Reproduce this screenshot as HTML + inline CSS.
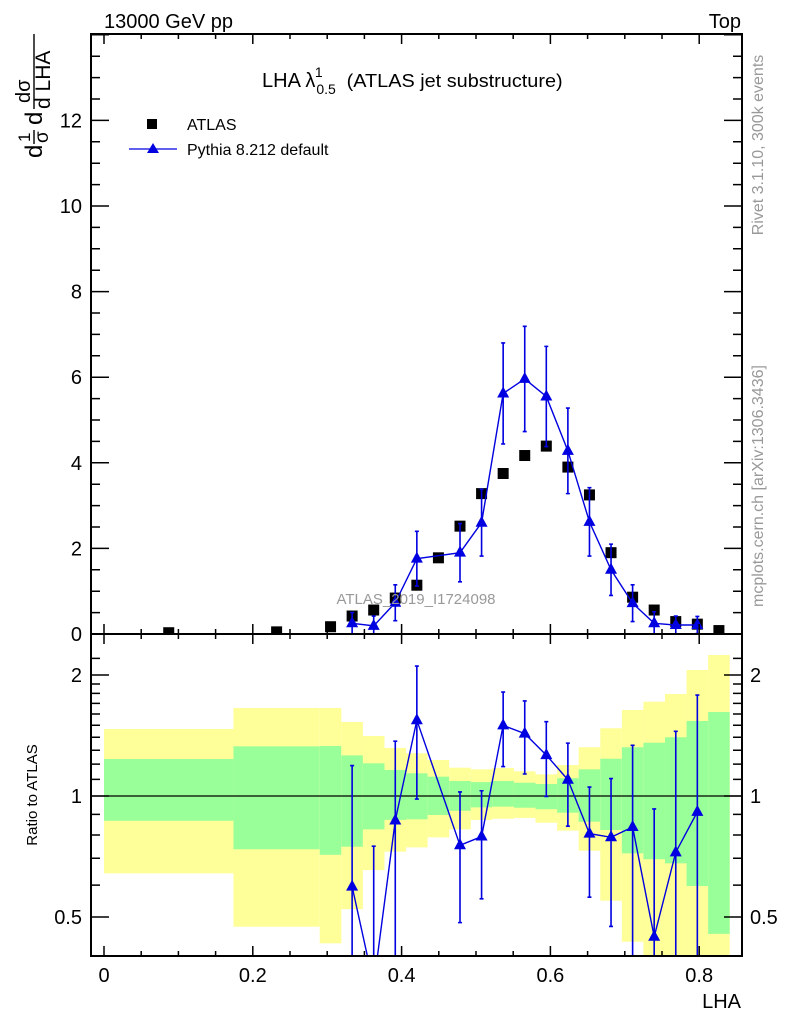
<!DOCTYPE html>
<html><head><meta charset="utf-8"><style>
html,body{margin:0;padding:0;background:#fff;width:786px;height:1024px;overflow:hidden;}
svg{display:block;font-family:"Liberation Sans",sans-serif;}
</style></head><body>
<svg id="chart" width="786" height="1024" viewBox="0 0 786 1024" xmlns="http://www.w3.org/2000/svg" overflow="hidden">
<defs>
<clipPath id="mainclip"><rect x="91" y="34" width="651" height="600"/></clipPath>
<clipPath id="ratclip"><rect x="91" y="634" width="651" height="322"/></clipPath>
</defs>
<g id="ratio-bands"></g>
<g id="main-marks" clip-path="url(#mainclip)"></g>
<g id="ratio-marks" clip-path="url(#ratclip)"></g>
<g id="axes"></g>
<text x="104" y="28" font-size="20">13000 GeV pp</text>
<text x="741" y="28" font-size="20" text-anchor="end">Top</text>
<text x="262" y="87" font-size="20">LHA λ<tspan font-size="14" dx="1" dy="7">0.5</tspan><tspan font-size="14" dx="-21" dy="-17">1</tspan><tspan font-size="18" dx="24" dy="10" textLength="216" lengthAdjust="spacingAndGlyphs">(ATLAS jet substructure)</tspan></text>
<g>
<rect x="147" y="119" width="10" height="10" fill="#000"/>
<text x="187" y="130" font-size="16">ATLAS</text>
<line x1="129" y1="149" x2="177" y2="149" stroke="#0000e0" stroke-width="1.3"/>
<polygon points="153,143 159,153 147,153" fill="#0000e0"/>
<text x="187" y="155" font-size="16">Pythia 8.212 default</text>
</g>
<text x="416" y="604" font-size="15" fill="#999" text-anchor="middle">ATLAS_2019_I1724098</text>
<text transform="translate(763,145) rotate(-90)" font-size="16" fill="#999" text-anchor="middle">Rivet 3.1.10,  300k events</text>
<text transform="translate(763,486) rotate(-90)" font-size="16" fill="#999" text-anchor="middle">mcplots.cern.ch [arXiv:1306.3436]</text>
<g transform="translate(42,158) rotate(-90)" font-size="24">
<text x="0" y="0">d</text>
<text x="16" y="-12" font-size="17">1</text>
<line x1="14" y1="-8" x2="28" y2="-8" stroke="#000" stroke-width="1.4"/>
<text x="15" y="6" font-size="19">σ</text>
<text x="33" y="0">d</text>
<text x="55" y="-12" font-size="20">dσ</text>
<line x1="49" y1="-8" x2="124" y2="-8" stroke="#000" stroke-width="1.4"/>
<text x="49" y="8" font-size="21">d LHA</text>
</g>
<text transform="translate(37,795) rotate(-90)" font-size="15" text-anchor="middle">Ratio to ATLAS</text>
<text x="741" y="1008" font-size="20" text-anchor="end">LHA</text>
</svg>
<script>
const binEdges=[0,0.174,0.29,0.319,0.348,0.377,0.406,0.435,0.464,0.493,0.522,0.551,0.580,0.609,0.638,0.667,0.696,0.725,0.754,0.783,0.812,0.841];
const atlasValues=[0.03,0.05,0.17,0.42,0.56,0.84,1.14,1.78,2.52,3.28,3.75,4.17,4.39,3.9,3.25,1.9,0.86,0.56,0.29,0.23,0.08];
const pythiaValues=[null,null,null,0.25,0.19,0.73,1.76,null,1.9,2.6,5.62,5.96,5.55,4.28,2.62,1.5,0.72,0.25,0.21,0.21,null];
const pythiaErrors=[0,0,0,0.25,0.23,0.42,0.64,0,0.68,0.78,1.18,1.23,1.17,1.0,0.8,0.6,0.43,0.27,0.21,0.2,0];
const yellowUpper=[1.468,1.655,1.655,1.528,1.41,1.317,1.277,1.229,1.176,1.165,1.174,1.152,1.132,1.194,1.322,1.474,1.637,1.716,1.794,2.058,2.243];
const greenUpper=[1.236,1.329,1.332,1.262,1.206,1.161,1.139,1.117,1.09,1.083,1.09,1.079,1.071,1.107,1.165,1.238,1.322,1.357,1.4,1.537,1.618];
const greenLower=[0.868,0.737,0.714,0.748,0.826,0.872,0.875,0.897,0.919,0.937,0.941,0.935,0.927,0.909,0.863,0.823,0.72,0.696,0.68,0.597,0.454];
const yellowLower=[0.642,0.473,0.43,0.523,0.654,0.727,0.745,0.789,0.826,0.872,0.878,0.882,0.858,0.82,0.731,0.549,0.434,0.35,0.3,0.3,0.3];
const xTickLabels=["0","0.2","0.4","0.6","0.8"];
const yTickLabels=["0","2","4","6","8","10","12"];
const ratioTickLabels=["0.5","1","2"];

const NS="http://www.w3.org/2000/svg";
const L=91,R=742,T=34,MB=634,RB=956;
const xs=v=>104+744*v;
const ys=v=>634-42.8*v;
const yr=r=>796-121*Math.log2(r);
const clampR=y=>Math.max(MB,Math.min(RB,y));
const clampM=y=>Math.max(T,Math.min(MB,y));
function mk(tag,attrs,parent){const e=document.createElementNS(NS,tag);for(const k in attrs)e.setAttribute(k,attrs[k]);parent.appendChild(e);return e;}
const bands=document.getElementById('ratio-bands');
const mm=document.getElementById('main-marks');
const rm=document.getElementById('ratio-marks');
const ax=document.getElementById('axes');
const BLUE="#0000e0";

for(let i=0;i<atlasValues.length;i++){
  const x0=xs(binEdges[i]),x1=xs(binEdges[i+1]);
  let y1=clampR(yr(yellowUpper[i])),y2=clampR(yr(yellowLower[i]));
  const yb=mk('rect',{x:x0,y:y1,width:x1-x0,height:y2-y1,fill:'#ffff99'},bands);
  
  
  let g1=clampR(yr(greenUpper[i])),g2=clampR(yr(greenLower[i]));
  const gb=mk('rect',{x:x0,y:g1,width:x1-x0,height:g2-g1,fill:'#99ff99'},bands);
  
  
}
const one=mk('line',{x1:L,x2:R,y1:yr(1),y2:yr(1),stroke:'#000','stroke-width':1.2},bands);



for(let i=0;i<atlasValues.length;i++){
  const cx=xs((binEdges[i]+binEdges[i+1])/2),cy=ys(atlasValues[i]);
  const r=mk('rect',{x:cx-5.5,y:cy-5.5,width:11,height:11,fill:'#000'},mm);
  
  
}
let mainPts=[],ratPts=[];
for(let i=0;i<pythiaValues.length;i++){
  if(pythiaValues[i]===null)continue;
  const cx=xs((binEdges[i]+binEdges[i+1])/2);
  mainPts.push([cx,ys(pythiaValues[i])]);
  ratPts.push([cx,yr(pythiaValues[i]/atlasValues[i])]);
}
const pl=mk('polyline',{points:mainPts.map(p=>p.join(',')).join(' '),fill:'none',stroke:BLUE,'stroke-width':1.4},mm);


const rl=mk('polyline',{points:ratPts.map(p=>p.join(',')).join(' '),fill:'none',stroke:BLUE,'stroke-width':1.4},rm);


for(let i=0;i<pythiaValues.length;i++){
  const v=pythiaValues[i];if(v===null)continue;
  const cx=xs((binEdges[i]+binEdges[i+1])/2);
  const e=pythiaErrors[i];
  const top=clampM(ys(v+e)),bot=clampM(ys(v-e));
  const eb=mk('path',{d:`M${cx},${top}V${bot}M${cx-2},${top}H${cx+2}M${cx-2},${bot}H${cx+2}`,stroke:BLUE,'stroke-width':1.6,fill:'none'},mm);
  
  
  const cy=ys(v);
  const tr=mk('polygon',{points:`${cx},${cy-7} ${cx+6},${cy+4} ${cx-6},${cy+4}`,fill:BLUE},mm);
  
  
  const r=v/atlasValues[i],re=e/atlasValues[i];
  const rt=clampR(yr(r+re)),rbv=r-re>0.01?clampR(yr(r-re)):RB;
  const reb=mk('path',{d:`M${cx},${rt}V${rbv}M${cx-2},${rt}H${cx+2}M${cx-2},${rbv}H${cx+2}`,stroke:BLUE,'stroke-width':1.6,fill:'none'},rm);
  
  
  const ry=yr(r);
  const rtr=mk('polygon',{points:`${cx},${ry-7} ${cx+6},${ry+4} ${cx-6},${ry+4}`,fill:BLUE},rm);
  
  
}

const f1=mk('rect',{x:L,y:T,width:R-L,height:MB-T,fill:'none',stroke:'#000','stroke-width':2},ax);


const f2=mk('rect',{x:L,y:MB,width:R-L,height:RB-MB,fill:'none',stroke:'#000','stroke-width':2},ax);


let d='';
for(let k=0;k<=16;k++){
  const v=k*0.05,x=xs(v),len=(k%4===0)?10:5;
  d+=`M${x},${MB}v${-len}M${x},${T}v${len}M${x},${RB}v${-len}M${x},${MB}v${len}`;
}
for(let k=0;k<=28;k++){
  const v=k*0.5,y=ys(v),len=(k%4===0)?18:9;
  if(y<T)continue;
  d+=`M${L},${y}h${len}M${R},${y}h${-len}`;
}
const rminor=[0.4,0.6,0.7,0.8,0.9,1.1,1.2,1.3,1.4,1.5,1.6,1.7,1.8,1.9,2.2];
rminor.forEach(r=>{const y=yr(r);if(y<MB||y>RB)return;d+=`M${L},${y}h9M${R},${y}h-9`;});
[0.5,1,2].forEach(r=>{const y=yr(r);d+=`M${L},${y}h18M${R},${y}h-18`;});
const tk=mk('path',{d:d,stroke:'#000','stroke-width':1.5,fill:'none'},ax);


xTickLabels.forEach((s,i)=>{
  const t=mk('text',{x:xs(i*0.2),y:982,'font-size':20,'text-anchor':'middle'},ax);t.textContent=s;
  
  
});
yTickLabels.forEach((s,i)=>{
  const t=mk('text',{x:82,y:ys(i*2)+7,'font-size':20,'text-anchor':'end'},ax);t.textContent=s;
  
  
});
ratioTickLabels.forEach(s=>{
  const y=yr(parseFloat(s))+7;
  const t=mk('text',{x:82,y:y,'font-size':20,'text-anchor':'end'},ax);t.textContent=s;
  
  
  const t2=mk('text',{x:750,y:y,'font-size':20},ax);t2.textContent=s;
  
  
});
</script>
</body></html>
